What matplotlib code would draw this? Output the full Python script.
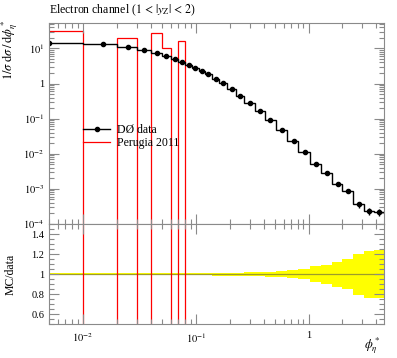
import matplotlib
matplotlib.use('Agg')
import matplotlib.pyplot as plt
import numpy as np
from matplotlib.lines import Line2D
from matplotlib.ticker import LogLocator, FuncFormatter, MultipleLocator, NullFormatter

plt.rcParams['font.family'] = ['Liberation Serif', 'DejaVu Serif']
plt.rcParams['mathtext.fontset'] = 'stix'

# bin edges of phi*_eta (first bin starts at 0)
edges = [0.0, 0.01, 0.02, 0.03, 0.04, 0.05, 0.06, 0.07, 0.08, 0.093, 0.106,
         0.121, 0.139, 0.162, 0.19, 0.226, 0.269, 0.335, 0.41, 0.513, 0.65,
         0.81, 1.03, 1.30, 1.62, 2.0, 2.48, 3.08, 3.78, 4.67]

# data points (D0)
phi_star = [0.005, 0.015, 0.025, 0.035, 0.045, 0.055, 0.065, 0.076, 0.087,
            0.099, 0.113, 0.129, 0.150, 0.175, 0.208, 0.247, 0.30, 0.37,
            0.46, 0.58, 0.74, 0.93, 1.16, 1.45, 1.83, 2.25, 2.8, 3.45, 4.2]
data = [14.45, 13.27, 11.1, 9.12, 7.48, 6.15, 5.05, 4.06, 3.40, 2.74, 2.29,
        1.88, 1.39, 1.04, 0.70, 0.443, 0.286, 0.165, 0.0924, 0.0463, 0.0228,
        0.0109, 0.00505, 0.00279, 0.00135, 0.000894, 0.000363, 0.000232,
        0.000220]
rel_err = [0.010, 0.010, 0.010, 0.010, 0.011, 0.011, 0.011, 0.012, 0.012,
           0.012, 0.013, 0.013, 0.014, 0.014, 0.015, 0.016, 0.018, 0.022,
           0.024, 0.032, 0.043, 0.053, 0.083, 0.095, 0.124, 0.147, 0.203,
           0.235, 0.237]

# Perugia 2011 MC
mc = [31.2, 0, 19.3, 0, 26.8, 10.0, 0, 16.5] + [0] * 21

edges = np.array(edges)
data = np.array(data)
rel_err = np.array(rel_err)
mc = np.array(mc, dtype=float)

x_lo, x_hi = 0.005, 4.67
e_draw = np.clip(edges, x_lo, None)
gray = '#8a8a8a'


def pow_fmt(v, pos):
    e = int(round(np.log10(v)))
    if e == 0:
        return '1'
    return r'$10^{%d}$' % e


fig = plt.figure(figsize=(3.97, 3.58), dpi=100)
ax = fig.add_axes([0.1234, 0.3743, 0.8439, 0.5606])
rx = fig.add_axes([0.1234, 0.0941, 0.8439, 0.2802], sharex=ax)

# main panel
ax.stairs(np.where(mc > 0, mc, 1e-12), e_draw, baseline=None, color='red', lw=0.9)
ax.stairs(data, e_draw, baseline=None, color='black', lw=1.0)
ax.errorbar(phi_star, data, yerr=data * rel_err, fmt='o', ms=3.0,
            color='black', elinewidth=1.0, capsize=0)
ax.set_xscale('log')
ax.set_yscale('log')
ax.set_xlim(x_lo, x_hi)
ax.set_ylim(1e-4, 52)
ax.yaxis.set_major_locator(LogLocator(base=10, numticks=20))
ax.yaxis.set_minor_locator(LogLocator(base=10, subs=np.arange(2, 10), numticks=20))
ax.yaxis.set_major_formatter(FuncFormatter(pow_fmt))
ax.yaxis.set_minor_formatter(NullFormatter())

handles = [Line2D([], [], color='black', marker='o', ms=3.0, lw=1.0),
           Line2D([], [], color='red', lw=0.9)]
ax.legend(handles, ['DØ data', 'Perugia 2011'], loc='upper left',
          bbox_to_anchor=(0.1015, 0.50), frameon=False, fontsize=8.5,
          handlelength=2.3, handletextpad=0.6, labelspacing=0.15,
          borderpad=0, borderaxespad=0)

# ratio panel
rx.stairs(1 + rel_err, e_draw, baseline=1 - rel_err, fill=True,
          color='#ffff00', lw=0)
rx.stairs(np.ones(len(data)), e_draw, baseline=None, color='#9c9c2c', lw=0.9)
rx.stairs(mc / data, e_draw, baseline=None, color='red', lw=0.9)
rx.set_ylim(0.5, 1.5)
rx.yaxis.set_major_locator(MultipleLocator(0.2))
rx.yaxis.set_minor_locator(MultipleLocator(0.05))
rx.yaxis.set_major_formatter(FuncFormatter(lambda v, p: '%g' % round(v, 2)))
rx.xaxis.set_major_locator(LogLocator(base=10, numticks=20))
rx.xaxis.set_minor_locator(LogLocator(base=10, subs=np.arange(2, 10), numticks=20))
rx.xaxis.set_major_formatter(FuncFormatter(pow_fmt))
rx.xaxis.set_minor_formatter(NullFormatter())

for a in (ax, rx):
    for s in a.spines.values():
        s.set_color(gray)
        s.set_linewidth(0.8)
    a.tick_params(which='both', direction='in', top=True, right=True,
                  color=gray, width=0.8, labelsize=7.5)
    a.tick_params(which='major', length=7)
    a.tick_params(which='minor', length=3.5)
ax.tick_params(labelbottom=False)
rx.tick_params(axis='x', pad=5)

fig.text(0.1234, 1 - 10 / 358,
         r'Electron channel ($1\,<\,|y_\mathrm{Z}|\,<\,2$)',
         ha='left', va='center', fontsize=8.5)
fig.text(10 / 397, 1 - 20 / 358, r'$1/\sigma\;\mathrm{d}\sigma\,/\,\mathrm{d}\phi^*_\eta$',
         rotation=90, ha='center', va='top', fontsize=9)
fig.text(11 / 397, 1 - 274 / 358, 'MC/data', rotation=90, ha='center',
         va='center', fontsize=8.5)
fig.text(372 / 397, 1 - 346 / 358, r'$\phi^*_\eta$', ha='center',
         va='center', fontsize=9)

fig.savefig('out.png', dpi=100)
